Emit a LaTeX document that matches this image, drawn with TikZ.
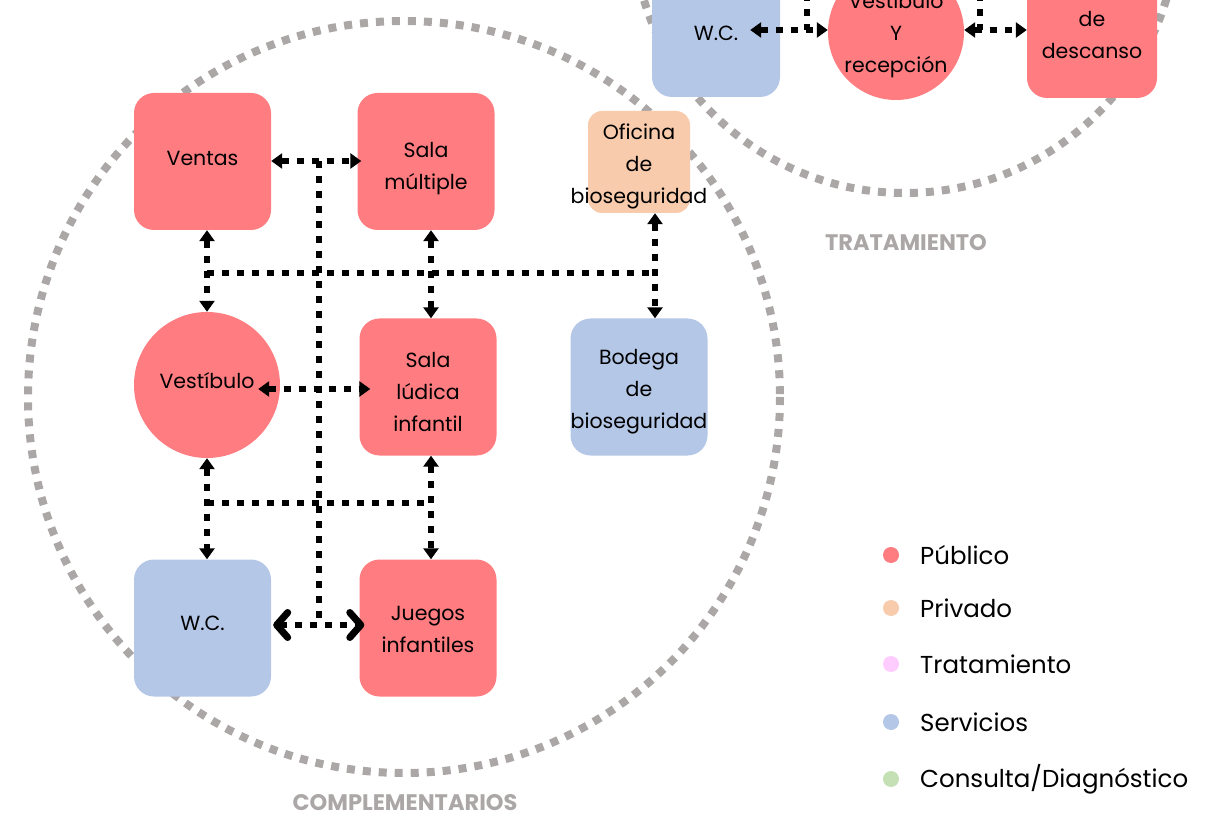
\documentclass[tikz,border=0pt]{standalone}
\usepackage{fontspec}
\setmainfont{Poppins}
\usetikzlibrary{arrows.meta}
\definecolor{pub}{RGB}{255,124,128}
\definecolor{priv}{RGB}{248,203,173}
\definecolor{trat}{RGB}{255,204,255}
\definecolor{serv}{RGB}{180,199,231}
\definecolor{cons}{RGB}{197,224,180}
\definecolor{zgray}{RGB}{172,167,167}
\tikzset{
  room/.style={rectangle, rounded corners=20pt, minimum width=137pt, minimum height=137pt, inner sep=0pt},
  hall/.style={circle, minimum size=146pt, inner sep=0pt},
  txt/.style={align=center, inner sep=0pt, font=\fontsize{20.5}{32}\selectfont},
  link/.style={line width=6pt, dash pattern=on 7pt off 8pt},
  biarrow/.style={link, {Triangle[length=11pt,width=15pt]}-{Triangle[length=11pt,width=15pt]}},
  chevarrow/.style={link, {Straight Barb[length=11pt,width=25pt,line width=7pt,round]}-{Straight Barb[length=11pt,width=25pt,line width=7pt,round]}},
  zone/.style={zgray, line width=8pt, dash pattern=on 8pt off 8pt},
  zonelabel/.style={text=zgray, font=\fontsize{22.5}{24}\selectfont\bfseries},
  legdot/.style={circle, minimum size=16pt, inner sep=0pt},
  legtxt/.style={anchor=west, inner sep=0pt, font=\fontsize{24.5}{28}\selectfont}
}
\begin{document}
\begin{tikzpicture}[x=1pt, y=-1pt]
\useasboundingbox (0,0) rectangle (1224,818);
\clip (0,0) rectangle (1224,818);
% zones
\draw[zone] (404,397) circle (376);
\draw[zone] (905,-80) circle (273);
\node[zonelabel] (lt) at (906,243) {TRATAMIENTO};
\node[zonelabel] (lc) at (405,803) {COMPLEMENTARIOS};
% top nodes
\node[room, fill=serv, minimum width=128pt, minimum height=128pt] (wc2) at (716,33) {};
\node[txt] (wc2t) at (wc2) {W.C.};
\node[hall, fill=pub, minimum size=136pt] (vest2) at (896,32) {};
\node[txt, yshift=-3pt] (vest2t) at (vest2) {Vestíbulo\\Y\\recepción};
\node[room, fill=pub, minimum width=130pt, minimum height=130pt] (desc) at (1092,33) {};
\node[txt, yshift=-2pt] (desct) at (desc) {de\\descanso};
% main nodes
\node[room, fill=pub] (vent) at (202.5,161.5) {};
\node[txt, yshift=3pt] (ventt) at (vent) {Ventas};
\node[room, fill=pub] (salm) at (426,161.5) {};
\node[txt, yshift=-7pt] (salmt) at (salm) {Sala\\múltiple};
\node[room, fill=priv, rounded corners=14pt, minimum width=102pt, minimum height=102pt] (ofi) at (639,162) {};
\node[txt, yshift=-4pt] (ofit) at (ofi) {Oficina\\de\\bioseguridad};
\node[hall, fill=pub] (vest) at (207,385) {};
\node[txt, yshift=4pt] (vestt) at (vest) {Vestíbulo};
\node[room, fill=pub] (salu) at (428,387) {};
\node[txt, yshift=-5pt] (salut) at (salu) {Sala\\lúdica\\infantil};
\node[room, fill=serv] (bod) at (639,387) {};
\node[txt, yshift=-5pt] (bodt) at (bod) {Bodega\\de\\bioseguridad};
\node[room, fill=serv] (wc) at (202.5,628) {};
\node[txt, yshift=5pt] (wct) at (wc) {W.C.};
\node[room, fill=pub] (jue) at (428,628) {};
\node[txt, yshift=-1.5pt] (juet) at (jue) {Juegos\\infantiles};
% junction coordinates
\coordinate (h1l) at (207,273);
\coordinate (h1r) at (655,273);
\coordinate (h2l) at (207,503);
\coordinate (h2r) at (431,503);
\coordinate (t1) at (319,161);
\coordinate (t2) at (319,625);
\coordinate (u1) at (807,-6);
\coordinate (u1b) at (807,30);
\coordinate (u2) at (980,-6);
\coordinate (u2b) at (980,30);
% connectors
\draw[link] (h1l) -- (h1r);
\draw[link] (h2l) -- (h2r);
\draw[link] (t1) -- (t2);
\draw[biarrow] (vent.east |- 0,161) -- ([xshift=4pt]salm.west |- 0,161);
\draw[biarrow] (vest.north |- vent.south) -- (vest.north);
\draw[biarrow] ([xshift=5pt]salm.south) -- ([xshift=3pt]salu.north);
\draw[biarrow] ([xshift=16pt]ofi.south) -- ([xshift=16pt]bod.north);
\draw[biarrow] ([xshift=-22pt]vest.east |- 0,389) -- ([xshift=11pt]salu.west |- 0,389);
\draw[biarrow] (vest.south) -- (vest.south |- wc.north);
\draw[biarrow] ([xshift=3pt]salu.south) -- ([xshift=3pt]jue.north);
\draw[chevarrow] ([xshift=2pt]wc.east |- 0,625) -- ([xshift=5pt]jue.west |- 0,625);
\draw[link] (u1) -- (u1b);
\draw[link] (u2) -- (u2b);
\draw[biarrow] ([xshift=-30pt]wc2.east |- 0,30) -- (vest2.west |- 0,30);
\draw[biarrow] (vest2.east |- 0,30) -- (desc.west |- 0,30);
% legend
\node[legdot, fill=pub] (d1) at (891,555) {};
\node[legdot, fill=priv] (d2) at (891,608) {};
\node[legdot, fill=trat] (d3) at (891,664) {};
\node[legdot, fill=serv] (d4) at (891,722) {};
\node[legdot, fill=cons] (d5) at (891,779) {};
\node[legtxt] (l1) at (920,555) {Público};
\node[legtxt] (l2) at (920,608) {Privado};
\node[legtxt] (l3) at (920,664) {Tratamiento};
\node[legtxt] (l4) at (920,722) {Servicios};
\node[legtxt] (l5) at (920,779) {Consulta/Diagnóstico};
\end{tikzpicture}
\end{document}
